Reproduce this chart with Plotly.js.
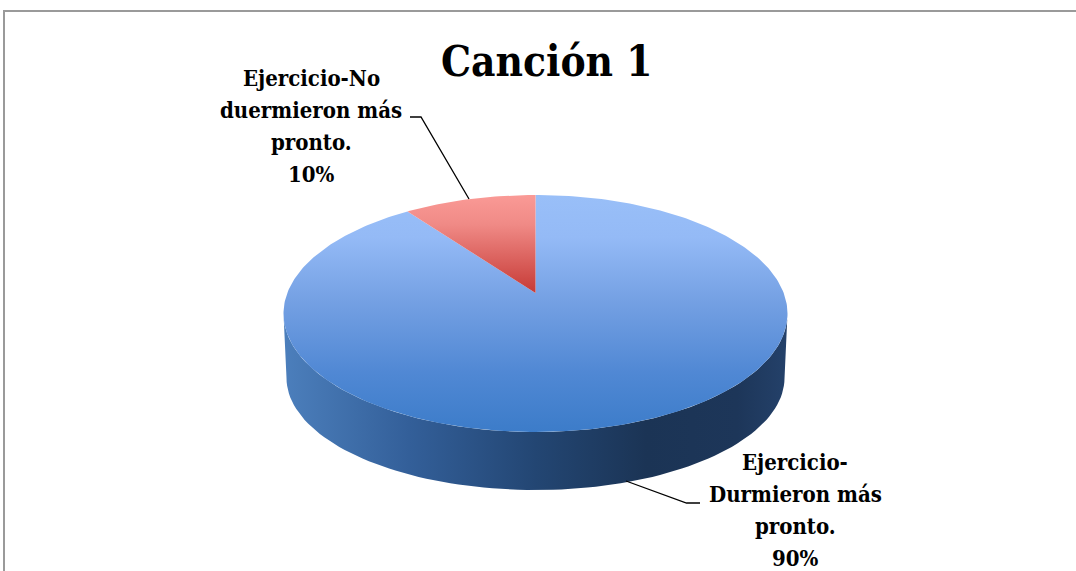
<!DOCTYPE html>
<html>
<head>
<meta charset="utf-8">
<script src="https://cdn.plot.ly/plotly-3.0.1.min.js"></script>
<style>html,body{margin:0;padding:0;background:#fff}#chart{width:1076px;height:571px}</style>
</head>
<body>
<div id="chart"></div>
<script>
var chartTitle = 'Canción 1';
var labelLines = [['Ejercicio-','Durmieron más','pronto.'], ['Ejercicio-No','duermieron más','pronto.']];
var values = [90, 10];
var topColors = [
  [[0,'#3c7cc9'],[0.25,'#5088d4'],[0.55,'#74a0e3'],[0.82,'#94baf6'],[1,'#99bff8']],
  [[0,'#c63a36'],[0.7,'#f08a86'],[1,'#fa9a96']]
];
var wallColors = [[0,'#4c7fbc'],[0.25,'#335f99'],[0.5,'#234673'],[0.72,'#1b3455'],[0.9,'#1d3659'],[1,'#24416a']];
var labelCenter = [795, 311];
var labelBase = [469, 85];
var lineStep = 32;
var leaders = [
  {x:[626,686.5,700], y:[481,503,503]},
  {x:[469,421,410], y:[199,117,117]}
];

var cx=535.5, cy=313.5, rx=252, ry=118.5, perspective=0.173;
var bx=535.5, by=378, brx=249, bry=112;

function project(deg){
  var t=deg*Math.PI/180, u=Math.sin(t), v=Math.cos(t), d=1+perspective*v;
  return [cx+rx*u*Math.sqrt(1-perspective*perspective)/d, cy-ry*(v+perspective)/d];
}
function slice(from,to){
  var xs=[], ys=[], n=Math.max(8,Math.ceil(to-from));
  var c=[cx, cy-ry*perspective];
  xs.push(c[0]); ys.push(c[1]);
  for(var i=0;i<=n;i++){var p=project(from+(to-from)*i/n); xs.push(p[0]); ys.push(p[1]);}
  xs.push(c[0]); ys.push(c[1]);
  return {x:xs,y:ys};
}
var wx=[], wy=[];
for(var a=180;a>=0;a-=2){var t=a*Math.PI/180; wx.push(cx+rx*Math.cos(t)); wy.push(cy+ry*Math.sin(t));}
for(var b=0;b<=180;b+=2){var s=b*Math.PI/180; wx.push(bx+brx*Math.cos(s)); wy.push(by+bry*Math.sin(s));}

var traces=[{
  x:wx,y:wy,mode:'lines',fill:'toself',line:{width:0},hoverinfo:'skip',
  fillcolor:'#234673',
  fillgradient:{type:'horizontal',colorscale:wallColors}
}];
var total=values.reduce(function(p,c){return p+c;},0), start=0;
values.forEach(function(v,i){
  var sweep=v/total*360, sl=slice(start,start+sweep);
  traces.push({x:sl.x,y:sl.y,mode:'lines',fill:'toself',line:{width:0},hoverinfo:'skip',
    fillcolor:topColors[i][1][1],
    fillgradient:{type:'vertical',colorscale:topColors[i]}});
  start+=sweep;
});
leaders.forEach(function(l){
  traces.push({x:l.x,y:l.y,mode:'lines',line:{color:'#000',width:1.3},hoverinfo:'skip'});
});
// left and top border of the chart frame
traces.push({x:[4,4,1076],y:[571,11,11],mode:'lines',line:{color:'#9a9a9a',width:2},hoverinfo:'skip'});

var font='"DejaVu Serif Condensed","DejaVu Serif",serif', size=22;
var annotations=[];
labelLines.forEach(function(lines,i){
  lines.concat([values[i]+'%']).forEach(function(line,j){
    annotations.push({x:labelCenter[i],y:labelBase[i]+j*lineStep,xref:'x',yref:'y',
      xanchor:'center',yanchor:'middle',yshift:size*0.3,showarrow:false,
      text:'<b>'+line+'</b>',font:{family:font,size:size,color:'#000'}});
  });
});
annotations.push({x:547,y:75,xref:'x',yref:'y',xanchor:'center',yanchor:'middle',yshift:14,showarrow:false,
  text:'<b>'+chartTitle+'</b>',font:{family:font,size:42,color:'#000'}});

var layout={
  width:1076,height:571,margin:{l:0,r:0,t:0,b:0},showlegend:false,
  paper_bgcolor:'#fff',plot_bgcolor:'#fff',
  xaxis:{range:[0,1076],visible:false,fixedrange:true},
  yaxis:{range:[571,0],visible:false,fixedrange:true},
  annotations:annotations
};
Plotly.newPlot('chart',traces,layout,{displayModeBar:false,staticPlot:true});
</script>
</body>
</html>
